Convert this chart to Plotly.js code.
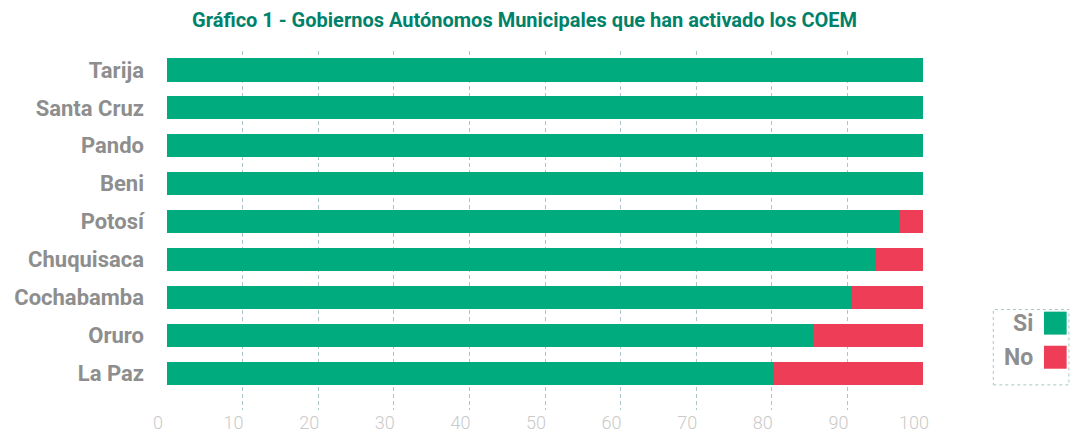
<!DOCTYPE html>
<html><head><meta charset="utf-8">
<script src="https://cdn.plot.ly/plotly-3.0.1.min.js"></script>
<style>body{margin:0;background:#fff}#chart{width:1072px;height:433px}</style>
</head><body><div id="chart"></div>
<script>
const categories = ["La Paz","Oruro","Cochabamba","Chuquisaca","Potosí","Beni","Pando","Santa Cruz","Tarija"];
const siValues = [80.3, 85.5, 90.6, 93.8, 96.9, 100, 100, 100, 100];
const noValues = [19.7, 14.5, 9.4, 6.2, 3.1, 0, 0, 0, 0];
const seriesNames = ["Si","No"];
const xTicks = [0,10,20,30,40,50,60,70,80,90,100];
const titleText = "Gráfico 1 - Gobiernos Autónomos Municipales que han activado los COEM";

const colors = ["#00AB7E","#EE3D56"];
const traces = [
  {type:"bar", orientation:"h", y:categories, x:siValues, name:seriesNames[0], marker:{color:colors[0]}, hoverinfo:"x+y"},
  {type:"bar", orientation:"h", y:categories, x:noValues, name:seriesNames[1], marker:{color:colors[1]}, hoverinfo:"x+y"}
];

const fam = "Roboto, sans-serif";
const legendFont = {family:fam, size:23, color:"#8e8e8e", weight:700};
const shapes = [
  {type:"rect", xref:"paper", yref:"paper", x0:1.093, x1:1.193, y0:0.07, y1:0.28, line:{color:"#a8c8c0", width:1, dash:"dot"}, fillcolor:"rgba(0,0,0,0)"}
];
const annotations = [];
seriesNames.forEach((n,i)=>{
  const yc = [0.242, 0.147][i];
  shapes.push({type:"rect", xref:"paper", yref:"paper", x0:1.16, x1:1.19, y0:yc-0.032, y1:yc+0.032, line:{width:0}, fillcolor:colors[i]});
  annotations.push({xref:"paper", yref:"paper", x:1.148, y:yc, xanchor:"right", yanchor:"middle", text:n, showarrow:false, font:legendFont});
});

const layout = {
  width:1072, height:433,
  margin:{l:167, r:149, t:51, b:23},
  paper_bgcolor:"#fff", plot_bgcolor:"#fff",
  barmode:"stack", bargap:0.39, showlegend:false,
  title:{text:titleText, x:0.473, xanchor:"center", y:0.953, yanchor:"middle", xref:"paper",
    font:{family:fam, size:20, color:"#00826A", weight:700}},
  xaxis:{range:[0,100], tickvals:xTicks, ticktext:xTicks.map(String), showgrid:true, gridcolor:"#a9c5c8", griddash:"4px,3px", gridwidth:1,
    zeroline:false, showline:false, ticks:"", ticklabelshift:-9,
    tickfont:{family:fam, size:18, color:"#cacaca", weight:300}, fixedrange:true},
  yaxis:{type:"category", range:[-0.97, 8.5], showgrid:false, zeroline:false, showline:false, ticks:"", ticklabelstandoff:22,
    tickfont:{family:fam, size:22, color:"#8e8e8e", weight:700}},
  shapes:shapes, annotations:annotations
};
Plotly.newPlot("chart", traces, layout, {displayModeBar:false, staticPlot:true});
</script></body></html>
